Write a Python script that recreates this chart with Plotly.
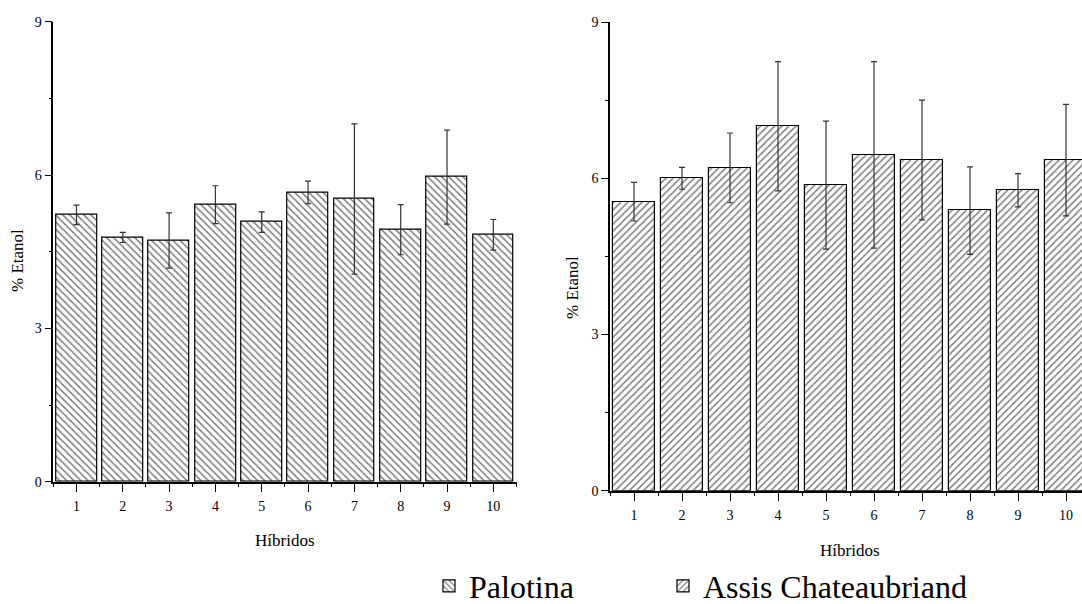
import plotly.graph_objects as go

hibridos = [1, 2, 3, 4, 5, 6, 7, 8, 9, 10]
tick_labels = ["1", "2", "3", "4", "5", "6", "7", "8", "9", "10"]

palotina = [5.22, 4.78, 4.72, 5.42, 5.08, 5.66, 5.53, 4.93, 5.96, 4.83]
palotina_err = [0.19, 0.10, 0.54, 0.37, 0.20, 0.22, 1.47, 0.49, 0.92, 0.30]

assis = [5.55, 6.00, 6.20, 7.00, 5.87, 6.45, 6.35, 5.38, 5.77, 6.35]
assis_err = [0.37, 0.21, 0.67, 1.24, 1.23, 1.79, 1.15, 0.84, 0.32, 1.07]

y_ticks = [0, 3, 6, 9]

FONT = "Liberation Serif"
W, H = 1082, 604

fig = go.Figure()

fig.add_trace(go.Bar(
    x=hibridos, y=palotina, name="Palotina", width=0.88,
    marker=dict(color="white", line=dict(color="black", width=1.2),
                pattern=dict(shape="\\", fgcolor="black", bgcolor="white", size=5, solidity=0.3)),
    error_y=dict(type="data", array=palotina_err, visible=True, color="#333", thickness=1.2, width=3),
    xaxis="x", yaxis="y", legend="legend",
))
fig.add_trace(go.Bar(
    x=hibridos, y=assis, name="Assis Chateaubriand", width=0.88,
    marker=dict(color="white", line=dict(color="black", width=1.2),
                pattern=dict(shape="/", fgcolor="black", bgcolor="white", size=5, solidity=0.3)),
    error_y=dict(type="data", array=assis_err, visible=True, color="#333", thickness=1.2, width=3),
    xaxis="x2", yaxis="y2", legend="legend2",
))

def xax(domain, rng, anchor):
    return dict(domain=domain, range=rng, anchor=anchor, tickvals=hibridos, ticktext=tick_labels,
                ticks="outside", ticklen=9, tickwidth=1.2, tickcolor="black", automargin=False,
                showline=True, linecolor="black", linewidth=1.5, showgrid=False, zeroline=False,
                tickfont=dict(family=FONT, size=14, color="black"), ticklabelstandoff=2,
                minor=dict(tick0=0.5, dtick=1, ticks="outside", ticklen=4, tickcolor="black", tickwidth=1, showgrid=False))

def yax(domain, anchor):
    return dict(domain=domain, range=[0, 9], anchor=anchor, tickvals=y_ticks, automargin=False,
                ticks="outside", ticklen=7, tickwidth=1.2, tickcolor="black",
                showline=True, linecolor="black", linewidth=1.5, showgrid=False, zeroline=False,
                tickfont=dict(family=FONT, size=14, color="black"),
                minor=dict(tick0=0, dtick=1.5, ticks="outside", ticklen=3, tickcolor="black", tickwidth=1, showgrid=False))

legend_style = dict(orientation="h", yanchor="bottom", y=-0.016, xanchor="left",
                    font=dict(family=FONT, size=32, color="black"), bgcolor="rgba(0,0,0,0)")

fig.update_layout(
    width=W, height=H,
    margin=dict(l=0, r=0, t=0, b=0, autoexpand=False),
    paper_bgcolor="white", plot_bgcolor="white",
    bargap=0,
    xaxis=xax([53.3 / W, 516.5 / W], [0.5, 10.5], "y"),
    yaxis=yax([(H - 481.7) / H, (H - 21.7) / H], "x"),
    xaxis2=xax([610 / W, 1.0], [0.5, 0.5 + (W - 610) / 48.0], "y2"),
    yaxis2=yax([(H - 490.7) / H, (H - 22.1) / H], "x2"),
    showlegend=True,
    legend=dict(legend_style, x=429 / W),
    legend2=dict(legend_style, x=663 / W),
    font=dict(family=FONT, color="black"),
)

title_font = dict(family=FONT, size=17, color="black")
annotations = [
    dict(text="% Etanol", x=17 / W, y=(H - 261) / H, textangle=-90),
    dict(text="% Etanol", x=572 / W, y=(H - 288) / H, textangle=-90),
    dict(text="Híbridos", x=285 / W, y=(H - 540) / H),
    dict(text="Híbridos", x=850 / W, y=(H - 550) / H),
]
for a in annotations:
    fig.add_annotation(xref="paper", yref="paper", showarrow=False, xanchor="center", yanchor="middle",
                       font=title_font, **a)

fig.write_html("out.html", config={"displayModeBar": False},
               post_script="document.body.style.margin='0px';document.body.style.overflow='hidden';")
